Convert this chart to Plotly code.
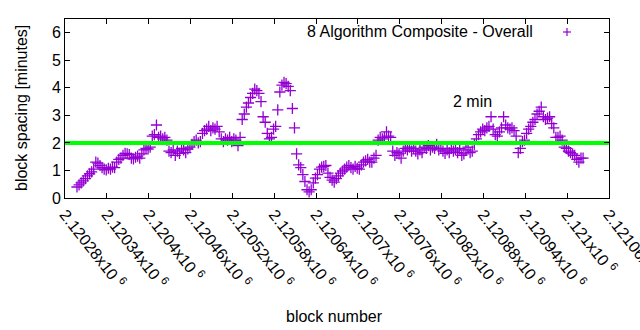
import plotly.graph_objects as go

# ---- data ----
first_block = 2120297
block_step = 3
spacing_minutes = [
    0.40, 0.48, 0.55, 0.62, 0.70, 0.80, 0.88, 0.95, 1.05, 1.30,
    1.27, 1.18, 1.10, 1.05, 1.02, 1.08, 1.05, 1.12, 1.10, 1.30,
    1.40, 1.45, 1.55, 1.62, 1.60, 1.58, 1.45, 1.42, 1.48, 1.52,
    1.45, 1.60, 1.75, 1.80, 1.78, 1.85, 2.25, 2.30, 2.65, 2.20,
    2.25, 2.15, 2.20, 2.10, 1.70, 1.65, 1.75, 1.55, 1.70, 1.62,
    1.80, 1.75, 1.65, 1.78, 1.85, 1.95, 2.05, 2.10, 2.00, 2.05,
    2.35, 2.45, 2.50, 2.60, 2.45, 2.55, 2.50, 2.60, 2.40, 2.15,
    2.05, 2.15, 2.10, 2.20, 2.05, 2.15, 2.10, 1.90, 2.20, 2.85,
    3.05, 3.30, 3.45, 3.65, 3.80, 3.95, 3.90, 3.80, 3.50, 2.95,
    2.75, 2.35, 2.15, 2.20, 2.50, 2.60, 3.20, 3.85, 4.10, 4.20,
    4.15, 4.05, 3.90, 3.25, 2.55, 1.60, 1.20, 1.10, 0.85, 0.60,
    0.30, 0.22, 0.30, 0.55, 0.72, 0.85, 1.05, 1.12, 1.15, 1.18,
    0.90, 0.75, 0.65, 0.58, 0.70, 0.80, 0.90, 0.98, 1.05, 1.12,
    1.18, 1.10, 1.05, 1.15, 1.08, 1.05, 1.20, 1.30, 1.35, 1.40,
    1.30, 1.30, 1.45, 1.55, 2.10, 2.20, 2.15, 2.20, 2.40, 2.25,
    2.20, 1.70, 1.55, 1.65, 1.60, 1.45, 1.70, 1.80, 1.75, 1.85,
    1.70, 1.80, 1.70, 1.60, 1.75, 1.65, 1.85, 1.80, 1.90, 1.75,
    1.85, 1.80, 1.95, 1.75, 1.80, 1.70, 1.62, 1.75, 1.65, 1.80,
    1.70, 1.75, 1.65, 1.80, 1.55, 1.60, 1.75, 1.85, 1.65, 1.70,
    1.95, 2.15, 2.30, 2.40, 2.50, 2.45, 2.55, 2.60, 2.95, 2.50,
    2.30, 2.25, 2.40, 2.55, 2.95, 2.65, 2.55, 2.50, 2.55, 2.45,
    2.25, 1.65, 1.80, 2.05, 2.10, 2.35, 2.50, 2.60, 2.75, 2.85,
    3.05, 3.15, 3.30, 2.95, 2.85, 2.90, 2.95, 2.70, 2.55, 2.20,
    2.20, 2.25, 2.10, 1.85, 1.80, 1.70, 1.65, 1.60, 1.55, 1.40,
    1.30, 1.45, 1.45,
]
block_numbers = [first_block + block_step * i for i in range(len(spacing_minutes))]

target_minutes = 2
x_range = [2120280, 2121060]
x_tick_values = [2120280, 2120340, 2120400, 2120460, 2120520, 2120580, 2120640,
                 2120700, 2120760, 2120820, 2120880, 2120940, 2121000, 2121060]
x_tick_labels = ["2.12028", "2.12034", "2.1204", "2.12046", "2.12052", "2.12058",
                 "2.12064", "2.1207", "2.12076", "2.12082", "2.12088", "2.12094",
                 "2.121", "2.12106"]
y_tick_values = [0, 1, 2, 3, 4, 5, 6]

series_name = "8 Algorithm Composite - Overall"
target_name = "2 min"

PURPLE = "#9400d3"
FONT = "Liberation Sans, Arial, sans-serif"

# plot area in pixels
L, R, T, B = 65, 609, 19, 198
PW, PH = R - L, B - T


def px_x(p):
    return (p - L) / PW


def px_y(p):
    return (B - p) / PH


fig = go.Figure()
fig.add_trace(go.Scatter(
    x=block_numbers, y=spacing_minutes, mode="markers", name=series_name,
    marker=dict(symbol="cross-thin", size=8, color=PURPLE,
                line=dict(width=1.3, color=PURPLE)),
    showlegend=False, cliponaxis=False,
))
fig.add_trace(go.Scatter(
    x=x_range, y=[target_minutes, target_minutes], mode="lines", name=target_name,
    line=dict(color="#00ff00", width=4), showlegend=False,
))

fig.update_layout(
    width=640, height=330,
    margin=dict(l=L, r=640 - R, t=T, b=330 - B),
    paper_bgcolor="white", plot_bgcolor="white",
    font=dict(family=FONT, size=16, color="black"),
    xaxis=dict(
        range=[x_range[0] - 0.2, x_range[1] + 0.2], tickmode="array",
        tickvals=x_tick_values,
        ticktext=[t + "x10 <sup>6</sup>" for t in x_tick_labels],
        tickangle=52, ticks="inside", ticklen=5, tickcolor="black",
        ticklabeloverflow="allow", automargin=False,
        tickfont=dict(size=16),
        showline=True, linecolor="black", linewidth=1, mirror="ticks",
        showgrid=False, zeroline=False,
        showticklabels=True,
    ),
    yaxis=dict(
        range=[0, 6.5], tickmode="array", tickvals=y_tick_values,
        ticks="inside", ticklen=5, tickcolor="black",
        tickfont=dict(size=16), automargin=False,
        showline=True, linecolor="black", linewidth=1, mirror="ticks",
        showgrid=False, zeroline=False,
    ),
)

# axis titles placed like the original
fig.add_annotation(xref="paper", yref="paper", x=px_x(334), y=px_y(316),
                   text="block number", showarrow=False, xanchor="center",
                   yanchor="middle", font=dict(size=16))
fig.add_annotation(xref="paper", yref="paper", x=px_x(21), y=px_y(108),
                   text="block spacing [minutes]", showarrow=False, textangle=-90,
                   xanchor="center", yanchor="middle", font=dict(size=16))

fig.add_annotation(xref="paper", yref="paper", x=px_x(535), y=px_y(32),
                   text=series_name, showarrow=False, xanchor="right", yanchor="middle",
                   font=dict(size=16))
fig.add_annotation(xref="paper", yref="paper", x=px_x(472), y=px_y(101),
                   text=target_name, showarrow=False, xanchor="center", yanchor="middle",
                   font=dict(size=16))
# key sample cross
cx, cy, h = px_x(567), px_y(32), 4
fig.add_shape(type="line", xref="paper", yref="paper",
              x0=cx - h / PW, x1=cx + h / PW, y0=cy, y1=cy,
              line=dict(color=PURPLE, width=1.2))
fig.add_shape(type="line", xref="paper", yref="paper",
              x0=cx, x1=cx, y0=cy - h / PH, y1=cy + h / PH,
              line=dict(color=PURPLE, width=1.2))

fig.write_html("out.html")
